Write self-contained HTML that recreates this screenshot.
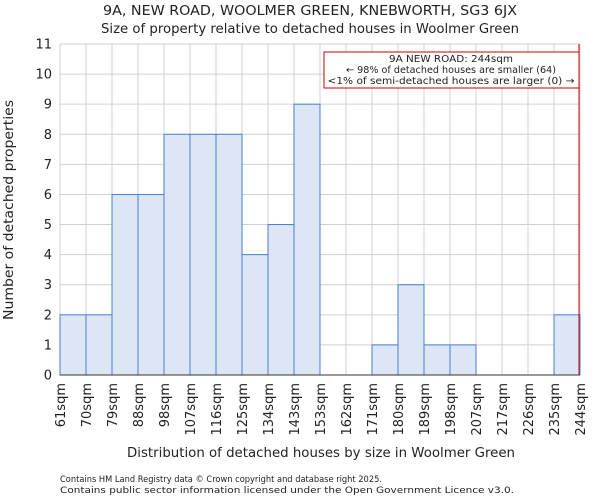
<!DOCTYPE html>
<html><head><meta charset="utf-8"><style>
body{margin:0;background:#fff;font-family:"DejaVu Sans","Liberation Sans",sans-serif;}
svg text{font-family:"DejaVu Sans","Liberation Sans",sans-serif;fill:#222;}
</style></head><body>
<svg id="c" width="600" height="500" xmlns="http://www.w3.org/2000/svg">
<text x="310" y="15" font-size="13" text-anchor="middle" textLength="414" lengthAdjust="spacingAndGlyphs">9A, NEW ROAD, WOOLMER GREEN, KNEBWORTH, SG3 6JX</text>
<text x="310" y="33" font-size="13" text-anchor="middle" textLength="418" lengthAdjust="spacingAndGlyphs">Size of property relative to detached houses in Woolmer Green</text>
<g id="grid"></g><g id="bars"></g><g id="axes"></g>
<text x="321" y="457" font-size="13" text-anchor="middle" textLength="388" lengthAdjust="spacingAndGlyphs">Distribution of detached houses by size in Woolmer Green</text>
<text transform="translate(13,210) rotate(-90)" font-size="13" text-anchor="middle" textLength="220" lengthAdjust="spacingAndGlyphs">Number of detached properties</text>
<text x="60" y="482" font-size="9" textLength="322" lengthAdjust="spacingAndGlyphs">Contains HM Land Registry data © Crown copyright and database right 2025.</text>
<text x="60" y="493" font-size="9" textLength="454" lengthAdjust="spacingAndGlyphs">Contains public sector information licensed under the Open Government Licence v3.0.</text>
</svg>
<script>
const categories=["61sqm","70sqm","79sqm","88sqm","98sqm","107sqm","116sqm","125sqm","134sqm","143sqm","153sqm","162sqm","171sqm","180sqm","189sqm","198sqm","207sqm","217sqm","226sqm","235sqm","244sqm"];
const counts=[2,2,6,6,8,8,8,4,5,9,0,0,1,3,1,1,0,0,0,2];
const yTicks=[0,1,2,3,4,5,6,7,8,9,10,11];
const propertyIndex=20;
const NS="http://www.w3.org/2000/svg";
const L=60,R=580,T=44,B=375,yMax=11;
const n=counts.length;
const x=i=>L+(R-L)*i/n;
const y=v=>B-(B-T)*v/yMax;
function mk(tag,attrs,parent,txt){const e=document.createElementNS(NS,tag);for(const k in attrs)e.setAttribute(k,attrs[k]);if(txt!==undefined)e.textContent=txt;document.getElementById(parent).appendChild(e);return e;}
yTicks.forEach(t=>{
 const g=mk('line',{x1:L,x2:R,y1:y(t),y2:y(t),stroke:'#d0d0d0','stroke-width':1},'grid');
 
 
 const tl=mk('text',{x:L-8,y:y(t)+4.5,'font-size':13,'text-anchor':'end'},'axes',String(t));
 
 
});
categories.forEach((c,i)=>{
 const g=mk('line',{x1:x(i),x2:x(i),y1:T,y2:B,stroke:'#d0d0d0','stroke-width':1},'grid');
 
 
 const tl=mk('text',{transform:`translate(${x(i)+5},${B+8}) rotate(-90)`,'font-size':13,'text-anchor':'end'},'axes',c);
 
 
});
counts.forEach((v,i)=>{
 if(v<=0)return;
 const b=mk('rect',{x:x(i),y:y(v),width:x(i+1)-x(i),height:y(0)-y(v),fill:'#dce6f4',stroke:'#4a7fcf','stroke-width':1},'bars');
 
 
});
const ax=mk('line',{x1:L,x2:R,y1:B,y2:B,stroke:'#333','stroke-width':1},'axes');


const pl=mk('line',{x1:x(propertyIndex)-1,x2:x(propertyIndex)-1,y1:T,y2:B,stroke:'#cc0000','stroke-width':1},'axes');


const box=mk('rect',{x:324,y:52,width:255,height:36,fill:'#fff',stroke:'#cc0000','stroke-width':1},'axes');


const annLens=[124,210,247];
["9A NEW ROAD: 244sqm","← 98% of detached houses are smaller (64)","<1% of semi-detached houses are larger (0) →"].forEach((s,k)=>{
 const t=mk('text',{x:451,y:62+k*11,'font-size':10,'text-anchor':'middle',textLength:annLens[k],lengthAdjust:'spacingAndGlyphs'},'axes',s);
 
 
});
</script>
</body></html>
